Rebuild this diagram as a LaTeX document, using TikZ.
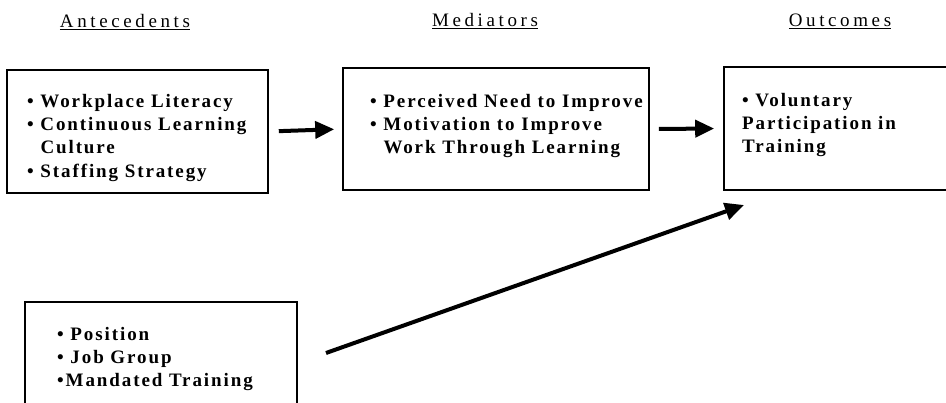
\documentclass[tikz,border=0pt]{standalone}
\usepackage{fontspec}
\setmainfont{Liberation Serif}
\newfontfamily\itemfont{Liberation Serif}[LetterSpace=10]
\newfontfamily\headfont{Liberation Serif}[LetterSpace=19]
\usetikzlibrary{arrows.meta}
\tikzset{
	box/.style = {draw, line width = 1.6pt, rectangle, inner sep = 0pt},
	items/.style = {anchor = north west, align = left, inner sep = 0pt, font = \fontsize{19}{23.3}\selectfont\itemfont\bfseries},
	heading/.style = {anchor = base, inner sep = 0pt, font = \fontsize{19}{22}\selectfont\headfont},
	link/.style = {line width = 4pt, -{Triangle[length = 19pt, width = 17pt]}}
}
\newcommand{\itm}{\textbullet\ }
\newcommand{\cont}{\hphantom{\textbullet\ }}
\begin{document}
\begin{tikzpicture}[x = 1pt, y = -1pt]
	\clip (0,0) rectangle (946,403);
	% column headings
	\foreach \name/\x/\y/\txt in {ante/125/28/Antecedents, medi/485/27/Mediators, outc/840/27/Outcomes}{
	\node [heading] (\name) at (\x,\y) {\underline{\txt}};
	}
	% boxes
	\node [box, minimum width = 261pt, minimum height = 123pt] (antebox) at (137.5,131.5) {};
	\node [box, minimum width = 306pt, minimum height = 122pt] (medibox) at (496,129) {};
	\node [box, minimum width = 240pt, minimum height = 123pt] (outcbox) at (844,128.5) {};
	\node [box, minimum width = 272pt, minimum height = 130pt] (ctrlbox) at (161,367) {};
	% box texts
	\node [items] (antetext) at (27,94) {\itm Workplace Literacy\\ \itm Continuous Learning\\ \cont Culture\\ \itm Staffing Strategy};
	\node [items] (meditext) at (370,94) {\itm Perceived Need to Improve\\ \itm Motivation to Improve\\ \cont Work Through Learning};
	\node [items] (outctext) at (742,93) {\itm Voluntary\\ Participation in\\ Training};
	\node [items] (ctrltext) at (57,327) {\itm Position\\ \itm Job Group\\ \textbullet Mandated Training};
	% arrows
	\draw [link, shorten < = 10pt, shorten > = 8pt] (antebox.east) -- (medibox.west);
	\draw [link, shorten < = 9pt, shorten > = 9pt] (medibox.east) -- (outcbox.west);
	\coordinate (ctrlstart) at (326,353);
	\coordinate (outcend) at (744,205);
	\draw [link] (ctrlstart) -- (outcend);
\end{tikzpicture}
\end{document}
